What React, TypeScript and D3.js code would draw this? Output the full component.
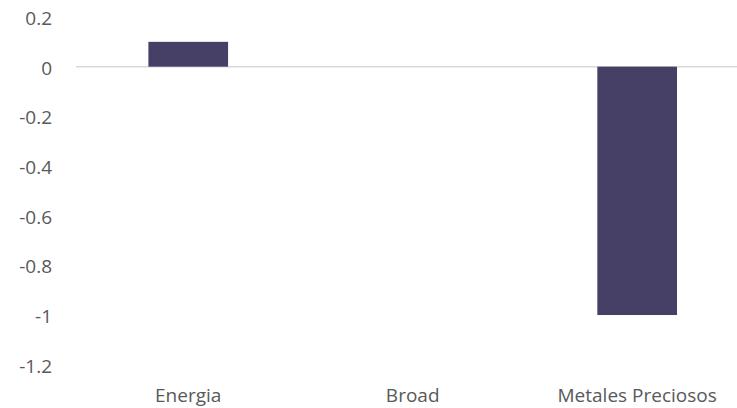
import React from "react";
import * as d3 from "d3";

const categories = ["Energia", "Broad", "Metales Preciosos"];
const values = [0.1, 0, -1];
const yTicks = [0.2, 0, -0.2, -0.4, -0.6, -0.8, -1, -1.2];

const W = 737;
const H = 408;
const FONT = "'Open Sans', sans-serif";

export default function App() {
  const x = d3.scaleBand<string>().domain(categories).range([76, 749.4]).padding(0);
  const y = d3.scaleLinear().domain([-1.2, 0.2]).range([364.7, 17]);
  const barW = x.bandwidth() * 0.355;
  return (
    <svg width={W} height={H} style={{ position: "absolute", left: 0, top: 0, background: "#fff" }}>
      {yTicks.map((t) => (
        <text key={t} x={52} y={y(t) + 1} textAnchor="end" dominantBaseline="central"
          fontFamily={FONT} fontSize={19} fill="#595959">
          {d3.format("")(t).replace("−", "-")}
        </text>
      ))}
      <line x1={76} x2={W} y1={y(0)} y2={y(0)} stroke="#D9D9D9" strokeWidth={1.5} />
      {categories.map((c, i) => {
        const cx = (x(c) as number) + x.bandwidth() / 2;
        const v = values[i];
        return (
          <g key={c}>
            {v !== 0 && (
              <rect x={cx - barW / 2} width={barW} y={Math.min(y(v), y(0))}
                height={Math.abs(y(v) - y(0))} fill="#463F66" />
            )}
            <text x={cx} y={402} textAnchor="middle" fontFamily={FONT} fontSize={19} fill="#595959">
              {c}
            </text>
          </g>
        );
      })}
    </svg>
  );
}
